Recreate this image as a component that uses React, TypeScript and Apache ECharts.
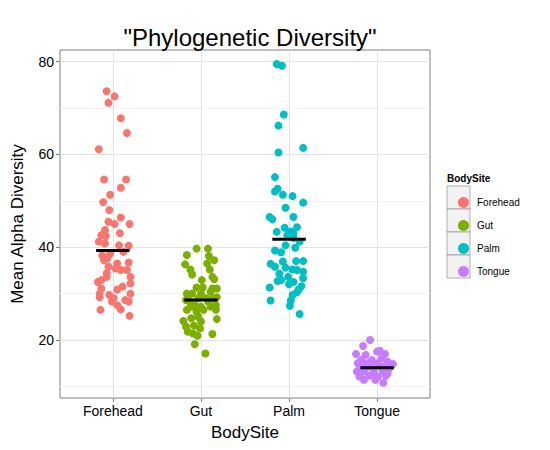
import { useEffect, useRef } from "react";
import * as echarts from "echarts";

const categories = ["Forehead", "Gut", "Palm", "Tongue"];
const colors = ["#F8766D", "#7CAE00", "#00BFC4", "#C77CFF"];
const yTicks = [20, 40, 60, 80];
const gridValues = [10, 20, 30, 40, 50, 60, 70, 80];
const medians = [39.3, 28.6, 41.7, 14.0];

// [jitter offset in category units, value]
const forehead = [
  [-0.07, 73.6], [0.02, 72.5], [-0.05, 71.1], [0.09, 67.8], [0.16, 64.6], [-0.16, 61.1],
  [-0.1, 54.6], [0.15, 54.6], [0.09, 52.8], [-0.03, 51.3], [-0.11, 49.7], [-0.04, 48],
  [-0.05, 45.5], [0.09, 46.4], [0.19, 45], [0.02, 45], [-0.09, 43.7], [0.08, 43],
  [-0.13, 42.6], [-0.08, 42.4], [-0.16, 41.2], [-0.09, 40.8], [0.07, 40.4], [0.18, 40.3],
  [-0.03, 38.6], [-0.06, 37.6], [-0.1, 37.2], [0.18, 36.7], [0.05, 36.5], [-0.05, 35.8],
  [0.03, 35.4], [0.09, 35.1], [-0.07, 34.4], [0.16, 35.1], [0.2, 33.6], [-0.07, 33.6],
  [-0.17, 32.5], [-0.13, 32.9], [0.2, 32.2], [0.11, 31.5], [-0.13, 31.1], [0.05, 30.9],
  [0.2, 30], [-0.04, 29.7], [-0.15, 29.2], [0.01, 29], [0.14, 28.6], [-0.01, 28.3],
  [0.18, 28.3], [0.05, 27.5], [0.09, 26.6], [-0.14, 26.5], [0.19, 25.2], [-0.15, 30],
  [0.12, 39.0], [-0.12, 38.2],
];
const gut = [
  [-0.05, 39.7], [0.08, 39.7], [-0.16, 38.3], [0.09, 38.1], [0.15, 37.2], [-0.18, 36.3],
  [0.07, 36.5], [0.1, 35.2], [-0.12, 35.2], [-0.1, 34.1], [0.13, 33.6], [0.15, 33.1],
  [0.01, 32.9], [-0.05, 31.3], [0.02, 31.3], [0.13, 31.1], [0.18, 31.1], [-0.16, 30],
  [-0.1, 30], [0, 29.9], [0.11, 30.4], [0.18, 29.2], [-0.17, 28.6], [-0.03, 29],
  [0.06, 29], [-0.12, 27.9], [-0.07, 27.5], [0, 27.2], [0.11, 27.2], [0.17, 27.5],
  [-0.16, 26.5], [-0.05, 26.1], [0.03, 26.5], [0.17, 26.5], [-0.11, 24.7], [-0.03, 25],
  [0, 24], [0.18, 24.5], [-0.2, 24.1], [-0.17, 22.9], [-0.08, 23.1], [-0.01, 22.5],
  [-0.15, 21.8], [-0.09, 21.4], [-0.04, 20.9], [0.13, 21.3], [-0.07, 19.1], [0.05, 17.1],
  [-0.14, 29.6], [0.08, 28.3], [-0.1, 27.2], [0.14, 28.9],
];
const palm = [
  [-0.14, 79.5], [-0.08, 79.1], [-0.06, 68.6], [-0.12, 66.2], [0.16, 61.4], [-0.12, 60.4],
  [-0.16, 55.1], [-0.16, 52], [-0.13, 52.6], [-0.07, 51.3], [0.04, 51], [0.16, 49.6],
  [-0.04, 48.5], [-0.22, 46.5], [-0.19, 46], [0.05, 46.5], [-0.05, 44.2], [-0.14, 43.3],
  [0.09, 44.3], [0.02, 43.4], [0.05, 42.9], [-0.02, 42.6], [0.05, 42], [0.12, 41.2],
  [-0.04, 40.4], [0.07, 39.9], [-0.16, 39.3], [-0.09, 38.9], [-0.21, 36.4], [-0.16, 35.8],
  [-0.07, 36.9], [0.08, 37], [0.16, 37], [-0.04, 35.6], [0.04, 35.2], [0.09, 35.1],
  [0.16, 34.7], [-0.11, 34.3], [-0.01, 33.6], [0.16, 33.3], [-0.09, 32.9], [-0.13, 32.7],
  [0.05, 32.5], [0, 32], [0.14, 31.6], [-0.22, 31.3], [0.11, 30.9], [0.09, 30.3],
  [0.04, 29.7], [-0.21, 28.5], [0.02, 28.5], [0.01, 27.4], [0.12, 25.6],
];
const tongue = [
  [-0.08, 20], [-0.16, 18.7], [-0.24, 17], [0, 17.5], [0.03, 17.7], [0.09, 17],
  [-0.13, 16.8], [-0.18, 15.7], [-0.06, 15.7], [0.05, 16.1], [0.12, 15.3], [-0.22, 15],
  [-0.11, 15], [0, 15], [0.1, 14.6], [-0.18, 14.3], [-0.08, 14.3], [0.03, 14.4],
  [0.14, 13.9], [-0.23, 13.2], [-0.15, 13.2], [-0.04, 13.2], [0.07, 13.2], [-0.2, 12.1],
  [-0.09, 12.3], [0.01, 12.1], [0.1, 12.3], [-0.15, 11.4], [-0.02, 11.4], [0.07, 10.8],
  [-0.12, 14.1], [0.06, 13.6], [0.12, 12.8], [-0.05, 12.7], [0.18, 14.8], [-0.2, 14.5],
];
const groups = [forehead, gut, palm, tongue];

export default function App() {
  const ref = useRef<HTMLDivElement>(null);

  useEffect(() => {
    document.body.style.margin = "0";
    if (!ref.current) return;
    const chart = echarts.init(ref.current, null, { renderer: "svg" });

    const pointSeries = groups.map((g, i) => ({
      name: categories[i],
      type: "scatter",
      symbolSize: 8,
      itemStyle: { color: colors[i], opacity: 1 },
      data: g.map(([dx, v]) => [i + 1 + dx, v]),
      z: 10,
    }));

    const medianSeries = medians.map((m, i) => ({
      type: "line",
      symbol: "none",
      lineStyle: { color: "#000", width: 3 },
      data: [[i + 1 - 0.19, m], [i + 1 + 0.19, m]],
      z: 12,
    }));

    const gridSeries = {
      type: "line",
      data: [],
      silent: true,
      z: 0,
      markLine: {
        silent: true,
        symbol: "none",
        label: { show: false },
        animation: false,
        z: 0,
        data: [
          ...gridValues.map((v) => ({
            yAxis: v,
            lineStyle: { color: yTicks.includes(v) ? "#e3e3e3" : "#f2f2f2", width: 1, type: "solid" },
          })),
          ...categories.map((_, i) => ({
            xAxis: i + 1,
            lineStyle: { color: "#e3e3e3", width: 1, type: "solid" },
          })),
        ],
      },
    };

    chart.setOption({
      animation: false,
      backgroundColor: "#fff",
      textStyle: { fontFamily: "Liberation Sans, Arial, sans-serif" },
      title: {
        text: '"Phylogenetic Diversity"',
        left: 245,
        textAlign: "center",
        top: 20,
        textStyle: { fontSize: 24, fontWeight: "normal", color: "#000" },
      },
      grid: { left: 60, right: 120, top: 50, bottom: 52, show: true, borderColor: "#7f7f7f", borderWidth: 1 },
      xAxis: {
        type: "value",
        min: 0.4,
        max: 4.6,
        name: "BodySite",
        nameLocation: "middle",
        nameGap: 26,
        nameTextStyle: { fontSize: 17, color: "#000" },
        axisLine: { show: false },
        axisTick: { show: true, customValues: [1, 2, 3, 4], lineStyle: { color: "#7f7f7f" }, length: 4 },
        splitLine: { show: false },
        axisLabel: {
          customValues: [1, 2, 3, 4],
          formatter: (v: number) => categories[Math.round(v) - 1] ?? "",
          fontSize: 14,
          color: "#000",
          margin: 6,
        },
      },
      yAxis: {
        type: "value",
        min: 7.5,
        max: 82.5,
        name: "Mean Alpha Diversity",
        nameLocation: "middle",
        nameGap: 34,
        nameTextStyle: { fontSize: 17, color: "#000" },
        axisLine: { show: false },
        axisTick: { show: true, customValues: yTicks, lineStyle: { color: "#7f7f7f" }, length: 4 },
        splitLine: { show: false },
        axisLabel: { customValues: yTicks, fontSize: 14, color: "#000", margin: 6 },
      },
      legend: {
        data: categories,
        orient: "vertical",
        left: 453,
        top: 192,
        itemGap: 12,
        itemWidth: 11,
        itemHeight: 11,
        icon: "circle",
        textStyle: { fontSize: 10, color: "#000", padding: [0, 0, 0, 3] },
      },
      graphic: [
        { type: "text", left: 447, top: 173, style: { text: "BodySite", font: "bold 10px Liberation Sans, Arial", fill: "#000" } },
        ...categories.map((_, i) => ({
          type: "rect",
          shape: { x: 447, y: 186 + i * 23, width: 23, height: 23 },
          style: { fill: "#f2f2f2", stroke: "#7f7f7f", lineWidth: 0.6 },
          z: -1,
          silent: true,
        })),
      ],
      series: [gridSeries, ...pointSeries, ...medianSeries],
    });

    return () => chart.dispose();
  }, []);

  return <div ref={ref} style={{ width: 550, height: 450 }} />;
}
